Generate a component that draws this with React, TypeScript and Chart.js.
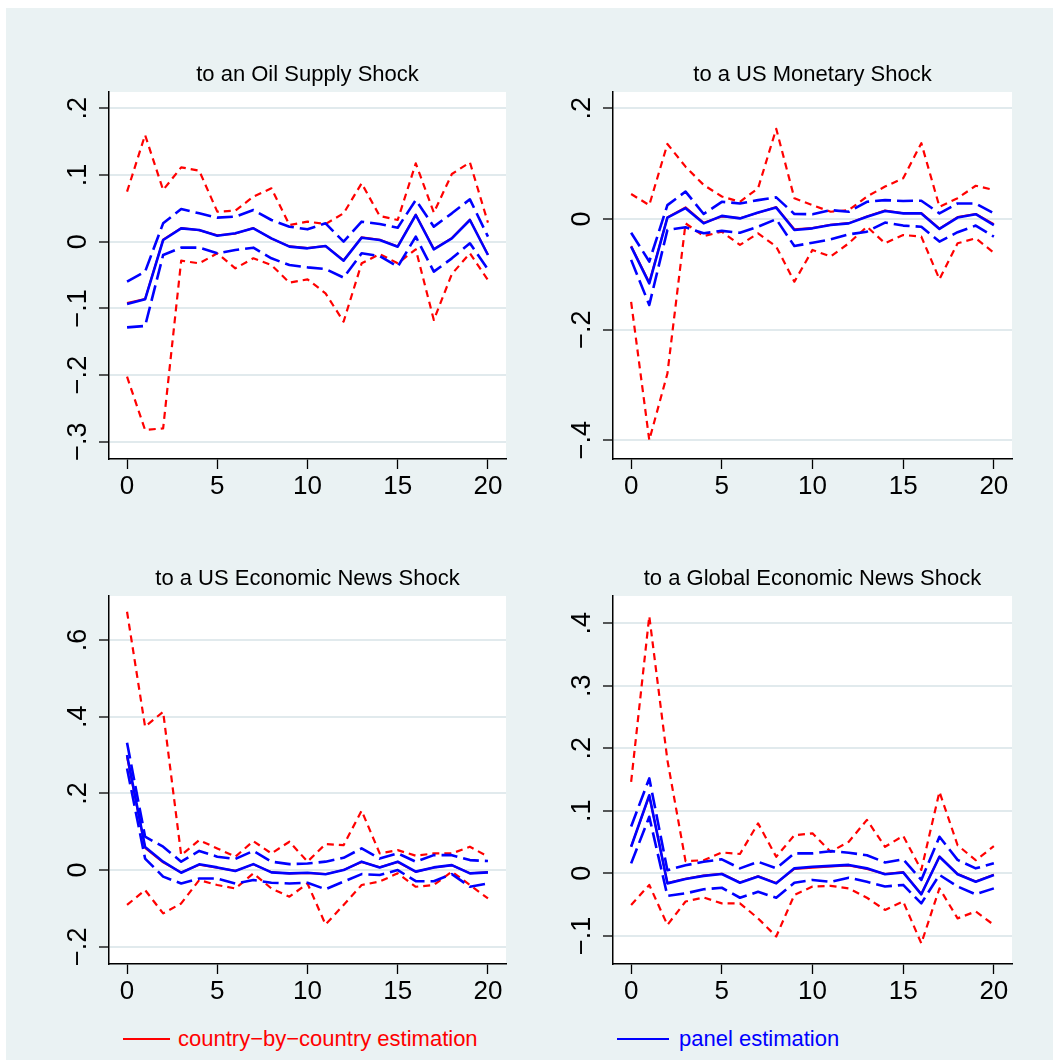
import React, { useEffect, useRef } from 'react';
import { Chart, registerables } from 'chart.js';

Chart.register(...registerables);

const FONT = '"Liberation Sans", Arial, Helvetica, sans-serif';
const RED = '#ff0000';
const BLUE = '#0000ff';
const GRID = '#e1eaed';
const BG = '#eaf2f3';

// impulse horizons and x ticks
const horizon = [0, 1, 2, 3, 4, 5, 6, 7, 8, 9, 10, 11, 12, 13, 14, 15, 16, 17, 18, 19, 20];
const xTicks = [0, 5, 10, 15, 20];

const legendLabels = ['country\u2212by\u2212country estimation', 'panel estimation'];

// to an Oil Supply Shock
const oilTitle = 'to an Oil Supply Shock';
const oilTicks = [-0.3, -0.2, -0.1, 0, 0.1, 0.2];
const oilPanel = [-0.0935, -0.0865, 0.0025, 0.02, 0.0175, 0.009, 0.0125, 0.02, 0.005, -0.0075, -0.01, -0.0065, -0.0285, 0.006, 0.0025, -0.0075, 0.04, -0.0115, 0.005, 0.0325, -0.02];
const oilPanelHi = [-0.06, -0.045, 0.0275, 0.049, 0.0425, 0.036, 0.0375, 0.0475, 0.0325, 0.0225, 0.0185, 0.0275, 0, 0.03, 0.0265, 0.021, 0.0625, 0.0225, 0.0425, 0.0635, 0.0075];
const oilPanelLo = [-0.1285, -0.1265, -0.02, -0.009, -0.009, -0.0175, -0.0125, -0.009, -0.025, -0.035, -0.0385, -0.041, -0.054, -0.0175, -0.0215, -0.0375, 0.0075, -0.045, -0.025, -0.0025, -0.0415];
const oilCountry = [-0.092, -0.086, 0.003, 0.0205, 0.017, 0.0095, 0.012, 0.0205, 0.0045, -0.007, -0.0095, -0.0065, -0.028, 0.0065, 0.003, -0.007, 0.0405, -0.011, 0.0055, 0.033, -0.0195];
const oilCountryHi = [0.075, 0.16, 0.0775, 0.1115, 0.1065, 0.045, 0.0465, 0.0675, 0.08, 0.025, 0.03, 0.0265, 0.0425, 0.0875, 0.0385, 0.0325, 0.1175, 0.0435, 0.1015, 0.119, 0.0285];
const oilCountryLo = [-0.2025, -0.2825, -0.28, -0.0285, -0.0325, -0.0175, -0.04, -0.025, -0.035, -0.0615, -0.0565, -0.0775, -0.12, -0.0325, -0.0185, -0.0325, -0.0115, -0.1175, -0.0485, -0.0175, -0.0575];

// to a US Monetary Shock
const usmTitle = 'to a US Monetary Shock';
const usmTicks = [-0.4, -0.2, 0, 0.2];
const usmPanel = [-0.05, -0.1165, 0.0025, 0.0195, -0.008, 0.0055, 0.001, 0.0115, 0.0205, -0.02, -0.017, -0.011, -0.008, 0.004, 0.0145, 0.01, 0.01, -0.018, 0.0025, 0.0085, -0.011];
const usmPanelHi = [-0.025, -0.077, 0.025, 0.0495, 0.009, 0.031, 0.028, 0.034, 0.039, 0.009, 0.0085, 0.016, 0.013, 0.031, 0.034, 0.0325, 0.033, 0.01, 0.028, 0.028, 0.01];
const usmPanelLo = [-0.074, -0.1555, -0.02, -0.015, -0.026, -0.0215, -0.025, -0.014, -0.0005, -0.049, -0.043, -0.037, -0.028, -0.023, -0.0065, -0.012, -0.014, -0.041, -0.024, -0.012, -0.032];
const usmCountry = [-0.049, -0.115, 0.003, 0.021, -0.007, 0.0045, 0.0015, 0.011, 0.0215, -0.0185, -0.0165, -0.0105, -0.0075, 0.0045, 0.0155, 0.0105, 0.0105, -0.0175, 0.0035, 0.009, -0.0095];
const usmCountryHi = [0.045, 0.025, 0.1355, 0.0945, 0.0615, 0.0405, 0.031, 0.0555, 0.163, 0.0375, 0.025, 0.013, 0.016, 0.0405, 0.0585, 0.0735, 0.137, 0.022, 0.0375, 0.06, 0.0525];
const usmCountryLo = [-0.15, -0.4, -0.2795, -0.008, -0.031, -0.023, -0.047, -0.026, -0.05, -0.1135, -0.056, -0.068, -0.044, -0.014, -0.044, -0.029, -0.032, -0.109, -0.044, -0.035, -0.061];

// to a US Economic News Shock
const usnTitle = 'to a US Economic News Shock';
const usnTicks = [-0.2, 0, 0.2, 0.4, 0.6];
const usnPanel = [0.3, 0.06, 0.022, -0.007, 0.015, 0.007, -0.0025, 0.0155, -0.006, -0.0085, -0.007, -0.011, 0, 0.022, 0.007, 0.022, -0.004, 0.007, 0.013, -0.0085, -0.006];
const usnPanelHi = [0.332, 0.087, 0.061, 0.022, 0.05, 0.035, 0.029, 0.05, 0.022, 0.0155, 0.017, 0.022, 0.032, 0.0565, 0.03, 0.0435, 0.022, 0.039, 0.039, 0.026, 0.0235];
const usnPanelLo = [0.265, 0.03, -0.017, -0.035, -0.022, -0.022, -0.035, -0.026, -0.033, -0.035, -0.033, -0.05, -0.03, -0.0105, -0.013, 0, -0.029, -0.029, -0.0105, -0.0435, -0.035];
const usnCountry = [0.295, 0.058, 0.02, -0.006, 0.014, 0.006, -0.002, 0.015, -0.0055, -0.009, -0.0075, -0.0105, 0.0005, 0.021, 0.0075, 0.021, -0.0045, 0.0065, 0.0125, -0.008, -0.0055];
const usnCountryHi = [0.674, 0.374, 0.413, 0.039, 0.078, 0.0565, 0.035, 0.0755, 0.0435, 0.074, 0.022, 0.068, 0.065, 0.155, 0.0435, 0.052, 0.0375, 0.0435, 0.0435, 0.061, 0.035];
const usnCountryLo = [-0.091, -0.052, -0.113, -0.087, -0.026, -0.039, -0.048, -0.0085, -0.048, -0.0695, -0.035, -0.142, -0.091, -0.039, -0.03, -0.0085, -0.0435, -0.039, -0.004, -0.039, -0.074];

// to a Global Economic News Shock
const gnTitle = 'to a Global Economic News Shock';
const gnTicks = [-0.1, 0, 0.1, 0.2, 0.3, 0.4];
const gnPanel = [0.0425, 0.125, -0.016, -0.009, -0.004, -0.001, -0.015, -0.005, -0.016, 0.008, 0.0105, 0.012, 0.0135, 0.008, -0.0015, 0.0015, -0.0335, 0.0265, -0.0015, -0.0135, -0.0025];
const gnPanelHi = [0.075, 0.152, 0.005, 0.013, 0.0185, 0.0225, 0.008, 0.0185, 0.008, 0.032, 0.032, 0.0355, 0.033, 0.029, 0.0175, 0.0225, -0.0105, 0.0585, 0.0215, 0.008, 0.016];
const gnPanelLo = [0.016, 0.0905, -0.036, -0.032, -0.0255, -0.023, -0.039, -0.0295, -0.039, -0.015, -0.0105, -0.0135, -0.007, -0.0135, -0.021, -0.0185, -0.048, -0.0025, -0.021, -0.0335, -0.024];
const gnCountry = [0.043, 0.124, -0.0155, -0.0085, -0.0035, -0.0005, -0.0145, -0.0045, -0.0155, 0.007, 0.009, 0.011, 0.0125, 0.007, -0.001, 0.002, -0.033, 0.027, -0.001, -0.013, -0.002];
const gnCountryHi = [0.1465, 0.4115, 0.181, 0.0195, 0.021, 0.0335, 0.031, 0.08, 0.0265, 0.061, 0.064, 0.0345, 0.0505, 0.0855, 0.0425, 0.06, 0.0055, 0.1305, 0.045, 0.021, 0.0435];
const gnCountryLo = [-0.0505, -0.0185, -0.0825, -0.045, -0.0385, -0.048, -0.048, -0.072, -0.101, -0.0345, -0.021, -0.02, -0.024, -0.039, -0.0585, -0.045, -0.112, -0.024, -0.072, -0.061, -0.0825];

// layout (page pixels of each plot region) and axis ranges
const Y_AXIS_W = 70;
const TITLE_H = 45;
const X_AXIS_H = 45;
const PAD_R = 15;
const ORIGIN = { left: 6, top: 8 };

interface Box { left: number; top: number; right: number; bottom: number }

interface PanelProps {
  title: string;
  ticks: number[];
  yMin: number;
  yMax: number;
  panel: number[];
  panelLo: number[];
  panelHi: number[];
  country: number[];
  countryLo: number[];
  countryHi: number[];
  plot: Box;
}

const fmtTick = (v: number) => {
  if (v === 0) return '0';
  const s = Math.abs(v).toString().replace(/^0/, '');
  return (v < 0 ? '\u2212' : '') + s;
};

const Panel = (p: PanelProps) => {
  const canvasRef = useRef<HTMLCanvasElement | null>(null);
  const w = p.plot.right - p.plot.left + Y_AXIS_W + PAD_R;
  const h = p.plot.bottom - p.plot.top + TITLE_H + X_AXIS_H;

  useEffect(() => {
    if (!canvasRef.current) return;

    const pts = (ys: number[]) => ys.map((y, i) => ({ x: horizon[i], y }));
    const line = (ys: number[], color: string, width: number, dash: number[], order: number) => ({
      data: pts(ys),
      borderColor: color,
      borderWidth: width,
      borderDash: dash,
      borderJoinStyle: 'round' as const,
      pointRadius: 0,
      tension: 0,
      fill: false,
      order,
    });

    // white plot region, panel title and rotated y labels
    const frame = {
      id: 'frame',
      beforeDraw(chart: any) {
        const { ctx, chartArea: a } = chart;
        ctx.save();
        ctx.fillStyle = '#ffffff';
        ctx.fillRect(a.left, a.top, a.right - a.left, a.bottom - a.top);
        ctx.restore();
      },
      afterDraw(chart: any) {
        const { ctx, chartArea: a } = chart;
        ctx.save();
        ctx.fillStyle = '#000000';
        ctx.textAlign = 'center';
        ctx.textBaseline = 'alphabetic';
        ctx.font = `22px ${FONT}`;
        ctx.fillText(p.title, (a.left + a.right) / 2, a.top - 11);
        ctx.font = `27px ${FONT}`;
        const ys = chart.scales.y;
        p.ticks.forEach((v) => {
          const py = ys.getPixelForValue(v);
          ctx.save();
          ctx.translate(a.left - 23, py);
          ctx.rotate(-Math.PI / 2);
          ctx.fillText(fmtTick(v), 0, 0);
          ctx.restore();
        });
        ctx.restore();
      },
    };

    const chart = new Chart(canvasRef.current, {
      type: 'line',
      data: {
        datasets: [
          line(p.panel, BLUE, 2.6, [], 0),
          line(p.panelHi, BLUE, 2.6, [16, 6], 1),
          line(p.panelLo, BLUE, 2.6, [16, 6], 2),
          line(p.country, RED, 2, [], 3),
          line(p.countryHi, RED, 2.2, [7, 5], 4),
          line(p.countryLo, RED, 2.2, [7, 5], 5),
        ],
      },
      options: {
        animation: false,
        responsive: false,
        events: [],
        layout: { padding: { left: 0, top: TITLE_H, right: PAD_R, bottom: 0 } },
        plugins: { legend: { display: false }, title: { display: false }, tooltip: { enabled: false } },
        scales: {
          x: {
            type: 'linear',
            min: -1,
            max: 21,
            afterBuildTicks: (s: any) => {
              s.ticks = xTicks.map((value) => ({ value }));
            },
            afterFit: (s: any) => {
              s.height = X_AXIS_H;
            },
            grid: { drawOnChartArea: false, drawTicks: true, tickLength: 10, tickColor: '#000000', tickWidth: 1.3 },
            border: { color: '#000000', width: 1.5 },
            ticks: {
              color: '#000000',
              font: { family: FONT, size: 26 },
              padding: 2,
              maxRotation: 0,
              autoSkip: false,
              callback: (v: any) => String(v),
            },
          },
          y: {
            type: 'linear',
            min: p.yMin,
            max: p.yMax,
            afterBuildTicks: (s: any) => {
              s.ticks = p.ticks.map((value) => ({ value }));
            },
            afterFit: (s: any) => {
              s.width = Y_AXIS_W;
            },
            grid: { color: GRID, lineWidth: 2, drawTicks: true, tickLength: 10, tickColor: '#000000', tickWidth: 1.3 },
            border: { color: '#000000', width: 1.5 },
            ticks: { display: false },
          },
        },
      },
      plugins: [frame],
    } as any);

    return () => {
      chart.destroy();
    };
  }, [p]);

  return (
    <canvas
      ref={canvasRef}
      width={w}
      height={h}
      style={{
        position: 'absolute',
        left: p.plot.left - Y_AXIS_W - ORIGIN.left,
        top: p.plot.top - TITLE_H - ORIGIN.top,
        width: w,
        height: h,
      }}
    />
  );
};

const App = () => {
  const legendText = { position: 'absolute' as const, top: 1028 - ORIGIN.top, font: `22px/22px ${FONT}`, whiteSpace: 'nowrap' as const };
  return (
    <div
      style={{
        position: 'absolute',
        left: ORIGIN.left,
        top: ORIGIN.top,
        width: 1053 - ORIGIN.left,
        height: 1060 - ORIGIN.top,
        background: BG,
        overflow: 'hidden',
      }}
    >
      <Panel
        title={oilTitle} ticks={oilTicks} yMin={-0.326} yMax={0.2245}
        panel={oilPanel} panelLo={oilPanelLo} panelHi={oilPanelHi}
        country={oilCountry} countryLo={oilCountryLo} countryHi={oilCountryHi}
        plot={{ left: 109, top: 92, right: 506, bottom: 459 }}
      />
      <Panel
        title={usmTitle} ticks={usmTicks} yMin={-0.434} yMax={0.2295}
        panel={usmPanel} panelLo={usmPanelLo} panelHi={usmPanelHi}
        country={usmCountry} countryLo={usmCountryLo} countryHi={usmCountryHi}
        plot={{ left: 613, top: 92, right: 1012, bottom: 459 }}
      />
      <Panel
        title={usnTitle} ticks={usnTicks} yMin={-0.245} yMax={0.715}
        panel={usnPanel} panelLo={usnPanelLo} panelHi={usnPanelHi}
        country={usnCountry} countryLo={usnCountryLo} countryHi={usnCountryHi}
        plot={{ left: 109, top: 596, right: 506, bottom: 964 }}
      />
      <Panel
        title={gnTitle} ticks={gnTicks} yMin={-0.145} yMax={0.4437}
        panel={gnPanel} panelLo={gnPanelLo} panelHi={gnPanelHi}
        country={gnCountry} countryLo={gnCountryLo} countryHi={gnCountryHi}
        plot={{ left: 613, top: 596, right: 1012, bottom: 964 }}
      />
      {/* legend */}
      <div style={{ position: 'absolute', left: 123 - ORIGIN.left, top: 1038 - ORIGIN.top, width: 47, height: 2, background: RED }} />
      <div style={{ ...legendText, left: 178 - ORIGIN.left, color: RED }}>{legendLabels[0]}</div>
      <div style={{ position: 'absolute', left: 617 - ORIGIN.left, top: 1038 - ORIGIN.top, width: 52, height: 2, background: BLUE }} />
      <div style={{ ...legendText, left: 679 - ORIGIN.left, color: BLUE }}>{legendLabels[1]}</div>
    </div>
  );
};

export default App;
